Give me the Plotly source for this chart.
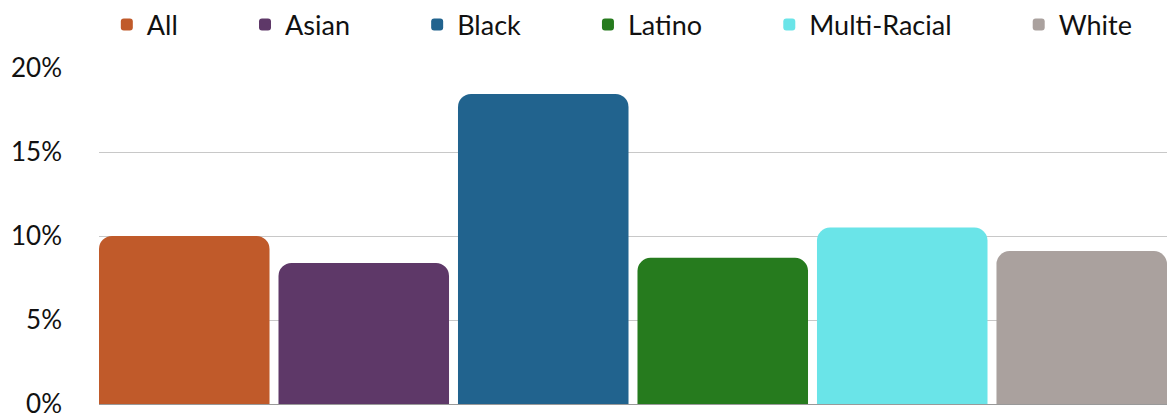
import plotly.graph_objects as go

groups = ["All", "Asian", "Black", "Latino", "Multi-Racial", "White"]
rates = [0.100, 0.084, 0.1845, 0.087, 0.105, 0.091]
colors = ["#C05A2A", "#5E3868", "#21638E", "#267B1E", "#6AE4E8", "#AAA19E"]
y_ticks = [0, 0.05, 0.10, 0.15, 0.20]
y_tick_text = ["0%", "5%", "10%", "15%", "20%"]

# non-breaking spaces widen the gap between legend entries
PAD = "\u00a0" * 9
GROUP_GAP = 0.05

fig = go.Figure()
for i, (name, val, col) in enumerate(zip(groups, rates, colors)):
    label = name if i == len(groups) - 1 else name + PAD
    fig.add_trace(go.Bar(
        x=[""], y=[val], name=label,
        marker=dict(color=col, line=dict(width=0)),
        hovertemplate=f"{name}: %{{y:.1%}}<extra></extra>",
    ))

# trim the x range so the outer bars sit flush with the plot edges
edge = GROUP_GAP / len(groups) / 2

fig.update_layout(
    width=1175, height=417,
    margin=dict(l=99, r=8, t=68, b=13, autoexpand=False),
    paper_bgcolor="white", plot_bgcolor="white",
    barmode="group", bargap=0, bargroupgap=GROUP_GAP,
    barcornerradius=13,
    font=dict(family="Lato, sans-serif", color="#111111"),
    legend=dict(
        orientation="h", x=0.49, xanchor="center", y=1.128, yanchor="middle",
        font=dict(size=27), itemsizing="constant",
    ),
    showlegend=True,
)
fig.update_xaxes(showticklabels=False, showgrid=False,
                 range=[-0.5 + edge, 0.5 - edge], showline=False)
fig.update_yaxes(range=[0, 0.2], tickvals=y_ticks, ticktext=y_tick_text,
                 showgrid=True, gridcolor="#C8C8C8", gridwidth=1,
                 zeroline=True, zerolinecolor="#999999", zerolinewidth=1,
                 tickfont=dict(size=26), ticks="", ticklabelstandoff=36,
                 ticklabeloverflow="allow")

fig.write_html("out.html")
